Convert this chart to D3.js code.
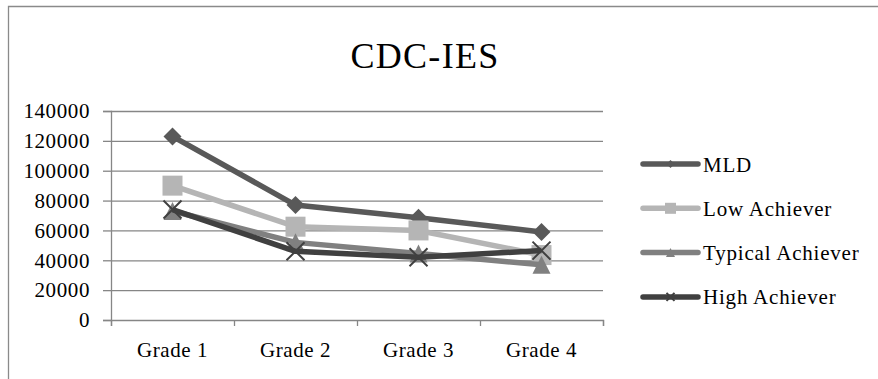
<!DOCTYPE html>
<html>
<head>
<meta charset="utf-8">
<script src="https://cdn.jsdelivr.net/npm/d3@7"></script>
<style>
  html, body { margin: 0; padding: 0; background: #fff; }
  svg { display: block; }
  text { font-family: "Liberation Serif", "DejaVu Serif", serif; fill: #000; }
</style>
</head>
<body>
<svg id="chart" width="878" height="379"></svg>
<script>
// Chart data
const categories = ["Grade 1", "Grade 2", "Grade 3", "Grade 4"];
const seriesNames = ["MLD", "Low Achiever", "Typical Achiever", "High Achiever"];
const mldValues = [123000, 77000, 68500, 59000];
const lowValues = [90000, 62500, 60000, 43500];
const typicalValues = [73000, 52000, 44500, 37000];
const highValues = [74000, 46000, 42000, 46500];
const yTicks = [0, 20000, 40000, 60000, 80000, 100000, 120000, 140000];
const titleText = "CDC-IES";

const seriesStyle = [
  { color: "#595959", marker: "diamond" },
  { color: "#b5b5b5", marker: "square" },
  { color: "#808080", marker: "triangle" },
  { color: "#404040", marker: "cross" }
];
const seriesValues = [mldValues, lowValues, typicalValues, highValues];
const series = seriesNames.map((name, i) => ({
  name, values: seriesValues[i], ...seriesStyle[i]
}));

const svg = d3.select("#chart");
const plot = { left: 111, right: 603, top: 111, bottom: 320 };

// Outer frame (top and left edges visible)
svg.append("path")
  .attr("d", "M8.5,379 L8.5,6.5 L878,6.5")
  .attr("fill", "none")
  .attr("stroke", "#8a8a8a")
  .attr("stroke-width", 1.3);

// Title
svg.append("text")
  .attr("x", 425).attr("y", 68)
  .attr("text-anchor", "middle")
  .style("font-size", "36px")
  .style("letter-spacing", "1.3px")
  .text(titleText);

const x = d3.scaleBand().domain(categories).range([plot.left, plot.right]);
const xEdges = d3.scaleLinear().domain([0, categories.length]).range([plot.left, plot.right]);
const y = d3.scaleLinear().domain([0, 140000]).range([plot.bottom, plot.top]);

const gridColor = "#868686";

// Horizontal gridlines
svg.append("g")
  .attr("transform", `translate(${plot.left},0)`)
  .call(d3.axisLeft(y).tickValues(yTicks.filter(v => v > 0)).tickSize(-(plot.right - plot.left)).tickFormat(""))
  .call(g => g.select(".domain").remove())
  .call(g => g.selectAll("line").attr("stroke", gridColor).attr("stroke-width", 1.3));

// Y axis with labels
svg.append("g")
  .attr("transform", `translate(${plot.left},0)`)
  .call(d3.axisLeft(y).tickValues(yTicks).tickSize(8).tickPadding(13).tickFormat(d3.format("d")))
  .call(g => g.select(".domain").attr("stroke", gridColor).attr("stroke-width", 1.3))
  .call(g => g.selectAll("line").attr("stroke", gridColor).attr("stroke-width", 1.3))
  .call(g => g.selectAll("text")
    .style("font-size", "21px")
    .style("font-family", "'Liberation Serif', serif")
    .style("letter-spacing", "0.6px")
    .attr("fill", "#000"));

// X axis: tick marks at category boundaries
svg.append("g")
  .attr("transform", `translate(0,${plot.bottom})`)
  .call(d3.axisBottom(xEdges).ticks(categories.length).tickSize(6).tickFormat(""))
  .call(g => g.select(".domain").attr("stroke", gridColor).attr("stroke-width", 1.3))
  .call(g => g.selectAll("line").attr("stroke", gridColor).attr("stroke-width", 1.3));

// X axis: category labels
svg.append("g")
  .attr("transform", `translate(0,${plot.bottom})`)
  .call(d3.axisBottom(x).tickSize(0).tickPadding(22))
  .call(g => g.select(".domain").remove())
  .call(g => g.selectAll("text")
    .style("font-size", "21px")
    .style("font-family", "'Liberation Serif', serif")
    .style("letter-spacing", "0.6px")
    .attr("fill", "#000"));

// Marker drawing helper
function drawMarker(g, type, cx, cy, s, color) {
  if (type === "diamond") {
    g.append("path")
      .attr("d", `M${cx},${cy - s} L${cx + s},${cy} L${cx},${cy + s} L${cx - s},${cy} Z`)
      .attr("fill", color);
  } else if (type === "square") {
    g.append("rect")
      .attr("x", cx - s).attr("y", cy - s)
      .attr("width", 2 * s).attr("height", 2 * s)
      .attr("fill", color);
  } else if (type === "triangle") {
    g.append("path")
      .attr("d", `M${cx},${cy - s} L${cx + s},${cy + s} L${cx - s},${cy + s} Z`)
      .attr("fill", color);
  } else if (type === "cross") {
    g.append("path")
      .attr("d", `M${cx - s},${cy - s} L${cx + s},${cy + s} M${cx + s},${cy - s} L${cx - s},${cy + s}`)
      .attr("stroke", color)
      .attr("stroke-width", 2)
      .attr("fill", "none");
  }
}

const line = d3.line()
  .x((d, i) => x(categories[i]) + x.bandwidth() / 2)
  .y(d => y(d));

const markerSize = { diamond: 9, square: 10, triangle: 9, cross: 9 };

// Series lines and markers
series.forEach(s => {
  const g = svg.append("g");
  g.append("path")
    .attr("d", line(s.values))
    .attr("fill", "none")
    .attr("stroke", s.color)
    .attr("stroke-width", 5.5)
    .attr("stroke-linejoin", "round");
  s.values.forEach((v, i) => {
    drawMarker(g, s.marker, x(categories[i]) + x.bandwidth() / 2, y(v), markerSize[s.marker], s.color);
  });
});

// Legend
const legend = svg.append("g");
const legendTop = 164, legendStep = 44.3;
series.forEach((s, i) => {
  const cy = legendTop + i * legendStep;
  const g = legend.append("g");
  g.append("line")
    .attr("x1", 643).attr("x2", 698)
    .attr("y1", cy).attr("y2", cy)
    .attr("stroke", s.color)
    .attr("stroke-width", 5.5)
    .attr("stroke-linecap", "round");
  const legendMarker = { diamond: 4, square: 5.5, triangle: 4.5, cross: 4 };
  drawMarker(g, s.marker, 670.5, cy, legendMarker[s.marker], s.color);
  g.append("text")
    .attr("x", 703).attr("y", cy + 7.5)
    .style("font-size", "21px")
    .style("letter-spacing", "0.8px")
    .text(s.name);
});
</script>
</body>
</html>
